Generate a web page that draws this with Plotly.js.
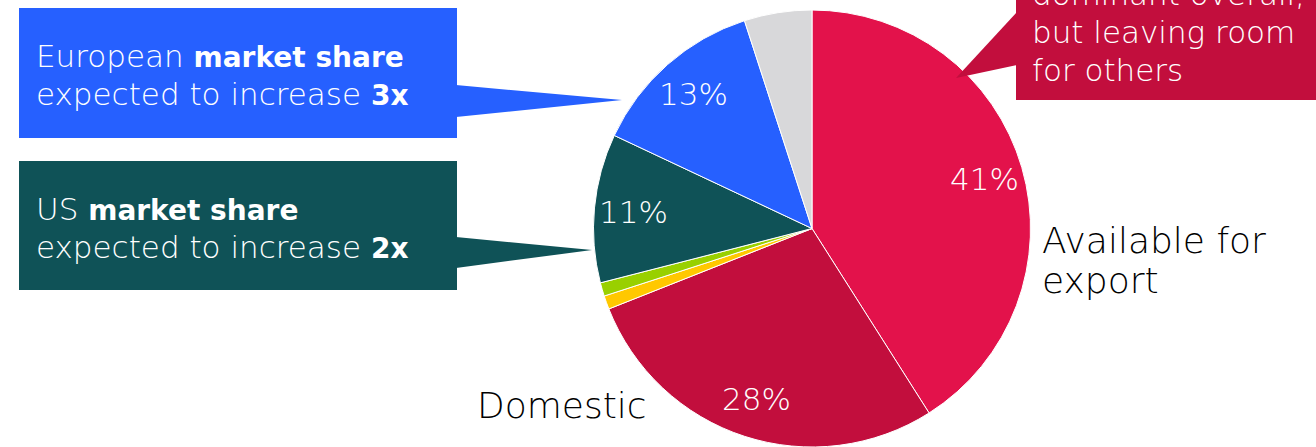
<!DOCTYPE html>
<html>
<head>
<meta charset="utf-8">
<script src="https://cdn.plot.ly/plotly-3.0.1.min.js"></script>
<style>
html,body{margin:0;padding:0;overflow:hidden;background:#fff;}
#chart{width:1316px;height:447px;}
</style>
</head>
<body>
<div id="chart"></div>
<script>
// ---- data ----
const categories = ['Available for export', 'Domestic', 'Other A', 'Other B', 'US', 'Europe', 'Rest'];
const values = [41, 28, 1, 1, 11, 13, 5];
const sliceLabels = ['41%', '28%', '', '', '11%', '13%', ''];
const sliceColors = ['#E3124B', '#C20E3D', '#FFC800', '#99D000', '#0F5257', '#2660FF', '#D8D8DA'];

const B = s => '<span style="font-size:28px"><b>' + s + '</b></span>';
const boxEuropeLines = ['European ' + B('market share'), 'expected to increase ' + B('3x')];
const boxUSLines = ['US ' + B('market share'), 'expected to increase ' + B('2x')];
const boxRedLines = ['dominant overall,', 'but leaving room', 'for others'];
const exportLines = ['Available for', 'export'];
const domesticLabel = 'Domestic';

// ---- layout helpers ----
const W = 1316, H = 447;
const FONT = '"DejaVu Sans", sans-serif';
const px = x => x / W;
const py = y => 1 - y / H;

function rect(x0, y0, x1, y1, color) {
  return {type: 'rect', xref: 'paper', yref: 'paper', x0: px(x0), x1: px(x1), y0: py(y1), y1: py(y0),
          fillcolor: color, line: {width: 0}, layer: 'above'};
}
function tri(pts, color) {
  const d = 'M ' + pts.map(p => px(p[0]) + ',' + py(p[1])).join(' L ') + ' Z';
  return {type: 'path', xref: 'paper', yref: 'paper', path: d, fillcolor: color, line: {width: 0}, layer: 'above'};
}
function textLine(txt, x, y, size, color, anchor) {
  return {xref: 'paper', yref: 'paper', x: px(x), y: py(y), xanchor: anchor || 'left', yanchor: 'middle',
          text: txt, showarrow: false, font: {family: FONT, size: size, color: color, weight: 300}};
}

const pieDomain = {x: [592 / W, 1032 / W], y: [0, 1 - 10 / H]};

const annotations = [];
boxEuropeLines.forEach((t, i) => annotations.push(textLine(t, 34, 56 + i * 38, 31, '#FFFFFF')));
boxUSLines.forEach((t, i) => annotations.push(textLine(t, 34, 209 + i * 38, 31, '#FFFFFF')));
boxRedLines.forEach((t, i) => annotations.push(textLine(t, 1030, -6 + i * 38, 31, '#FFFFFF')));
exportLines.forEach((t, i) => annotations.push(textLine(t, 1040, 240 + i * 40, 36, '#000000')));
annotations.push(textLine(domesticLabel, 475, 405, 36, '#000000'));

// percentage labels placed along each slice's mid-angle (derived from the data)
const total = values.reduce((a, b) => a + b, 0);
const cxp = (pieDomain.x[0] + pieDomain.x[1]) / 2;
const cyp = (pieDomain.y[0] + pieDomain.y[1]) / 2;
const rPx = Math.min((pieDomain.x[1] - pieDomain.x[0]) * W, (pieDomain.y[1] - pieDomain.y[0]) * H) / 2;
let cum = 0;
values.forEach((v, i) => {
  const mid = (cum + v / 2) / total * 2 * Math.PI;
  cum += v;
  if (!sliceLabels[i]) return;
  const rr = 0.82 * rPx;
  annotations.push({xref: 'paper', yref: 'paper',
    x: cxp + rr * Math.sin(mid) / W, y: cyp + rr * Math.cos(mid) / H,
    xanchor: 'center', yanchor: 'middle', text: sliceLabels[i], showarrow: false,
    font: {family: FONT, size: 31, color: '#FFFFFF', weight: 300}});
});

const shapes = [
  rect(19, 8, 457, 138, '#2660FF'),
  tri([[456, 85], [622, 100], [456, 117]], '#2660FF'),
  rect(19, 161, 457, 290, '#0F5257'),
  tri([[456, 237], [592, 250], [456, 268]], '#0F5257'),
  rect(1016, -20, 1320, 100, '#C20E3D'),
  tri([[1017, 12], [956, 78], [1017, 65]], '#C20E3D')
];

const trace = {
  type: 'pie',
  labels: categories,
  values: values,
  textinfo: 'none',
  sort: false,
  direction: 'clockwise',
  rotation: 0,
  marker: {colors: sliceColors, line: {color: '#FFFFFF', width: 1}},
  domain: pieDomain,
  hoverinfo: 'label+percent',
  showlegend: false
};

const layout = {
  width: W, height: H,
  margin: {l: 0, r: 0, t: 0, b: 0},
  paper_bgcolor: '#FFFFFF',
  showlegend: false,
  shapes: shapes,
  annotations: annotations
};

Plotly.newPlot('chart', [trace], layout, {displayModeBar: false, staticPlot: true});
</script>
</body>
</html>
